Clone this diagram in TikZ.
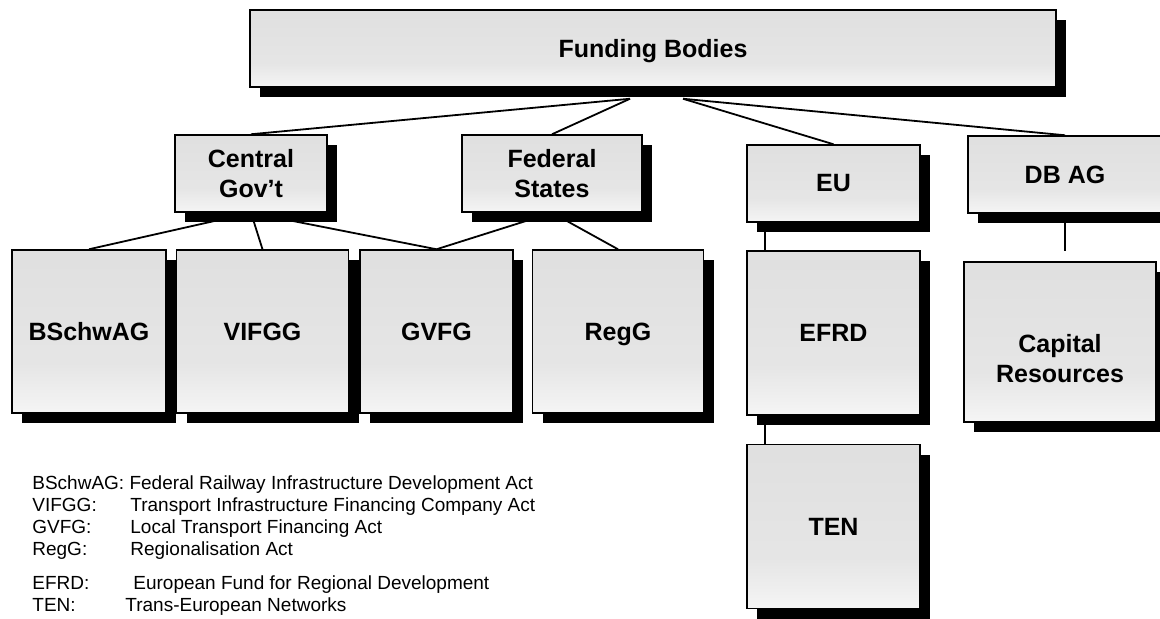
\documentclass[tikz,border=0pt]{standalone}
\usepackage{fontspec}
\setmainfont{Liberation Sans}
\usetikzlibrary{positioning, calc, shadows, backgrounds}
\pgfdeclareverticalshading{boxfade}{100bp}{color(0bp)=(white); color(15bp)=(white); color(40bp)=(black!10); color(100bp)=(black!14)}

\begin{document}
\begin{tikzpicture}[
			x=0.5pt, y=-0.5pt,
			fundbox/.style={draw, line width=0.75pt, shade, shading=boxfade, inner sep=0pt, align=center,
				font=\bfseries\fontsize{12.5}{15}\selectfont,
				drop shadow={shadow xshift=5pt, shadow yshift=-5pt, fill=black, opacity=1}},
			link/.style={line width=0.9pt},
			legend/.style={anchor=base west, inner sep=0pt, font=\fontsize{9.5}{11}\selectfont}
			]
			\useasboundingbox (0,0) rectangle (1160,618);
			
			% Nodes
			\node (fund) [fundbox, minimum width=403pt, minimum height=38.5pt, text depth=0pt] at (653,48.5) {Funding Bodies};
			\node (central) [fundbox, minimum width=76pt, minimum height=38.5pt] at (251,173.5) {Central\\Gov't};
			\node (federal) [fundbox, minimum width=90pt, minimum height=38.5pt] at (552,173.5) {Federal\\States};
			\node (eu) [fundbox, minimum width=86.5pt, minimum height=38.5pt] at (833.5,183.5) {EU};
			\node (dbag) [fundbox, minimum width=97pt, minimum height=38.5pt] at (1065,174.5) {DB AG};
			\node (bschwag) [fundbox, minimum width=77pt, minimum height=81.5pt] at (89,331.5) {BSchwAG};
			\node (vifgg) [fundbox, minimum width=86pt, minimum height=81.5pt, right=4.5pt of bschwag] {VIFGG};
			\node (gvfg) [fundbox, minimum width=76.5pt, minimum height=81.5pt, right=5pt of vifgg] {GVFG};
			\node (regg) [fundbox, minimum width=85.5pt, minimum height=81.5pt, text depth=0pt, right=9pt of gvfg] {RegG};
			\node (efrd) [fundbox, minimum width=86.5pt, minimum height=82pt] at (833.5,333) {EFRD};
			\node (ten) [fundbox, minimum width=86.5pt, minimum height=82pt, below=14pt of efrd] {TEN};
			\node (capital) [fundbox, minimum width=96pt, minimum height=80pt] at (1060,342) {\strut\\Capital\\Resources};
			
			% Legend
			\node (lgB) [legend] at (32,489) {BSchwAG: Federal Railway Infrastructure Development Act};
			\node (lgV) [legend] at (32,511) {VIFGG:};
			\node (lgVt) [legend] at (130,511) {Transport Infrastructure Financing Company Act};
			\node (lgG) [legend] at (32,533) {GVFG:};
			\node (lgGt) [legend] at (130,533) {Local Transport Financing Act};
			\node (lgR) [legend] at (32,555) {RegG:};
			\node (lgRt) [legend] at (130,555) {Regionalisation Act};
			\node (lgE) [legend] at (32,589) {EFRD:};
			\node (lgEt) [legend] at (133,589) {European Fund for Regional Development};
			\node (lgT) [legend] at (32,611) {TEN:};
			\node (lgTt) [legend] at (125,611) {Trans-European Networks};
			
			% Connections
			\coordinate (fundL) at ($(fund.south)+(-23,11)$);
			\coordinate (fundR) at ($(fund.south)+(30,11)$);
			\begin{pgfonlayer}{background}
				\draw [link] (fundL) -- (central.north);
				\draw [link] (fundL) -- (federal.north);
				\draw [link] (fundR) -- (eu.north);
				\draw [link] (fundR) -- (dbag.north);
				\draw [link] (central.south) -- (bschwag.north);
				\draw [link] (central.south) -- (vifgg.north);
				\draw [link] (central.south) -- (gvfg.north);
				\draw [link] (federal.south) -- (gvfg.north);
				\draw [link] (federal.south) -- (regg.north);
				\draw [link] ([xshift=9.5pt]eu.south west) -- ([xshift=9.5pt]efrd.north west);
				\draw [link] ([xshift=9.5pt]efrd.south west) -- ([xshift=9.5pt]ten.north west);
				\draw [link, shorten >=5pt] (dbag.south) -- (dbag.south |- capital.north);
			\end{pgfonlayer}
			
		\end{tikzpicture}
\end{document}
